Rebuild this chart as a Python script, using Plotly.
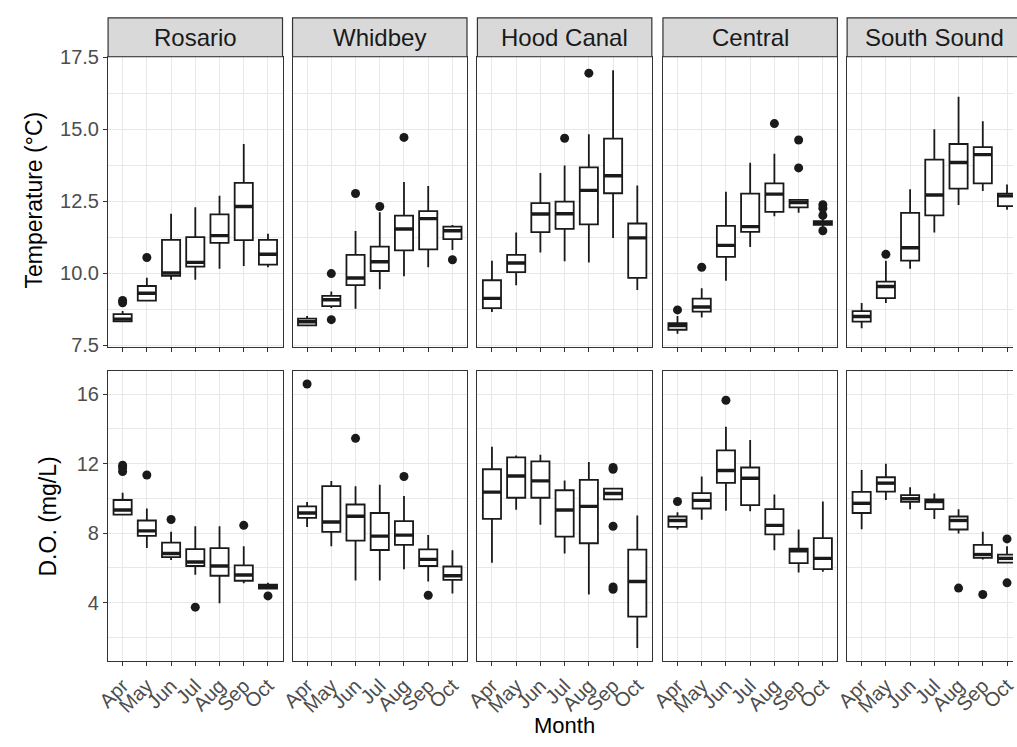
import plotly.graph_objects as go

W, H = 1017, 747

months = ["Apr", "May", "Jun", "Jul", "Aug", "Sep", "Oct"]
regions = ["Rosario", "Whidbey", "Hood Canal", "Central", "South Sound"]

# ---- Temperature (°C) box statistics, per region (Apr..Oct) ----
temp_q1 = [
    [8.32, 9.04, 9.90, 10.22, 11.05, 11.14, 10.29],
    [8.18, 8.85, 9.58, 10.07, 10.79, 10.82, 11.18],
    [8.78, 10.03, 11.42, 11.53, 11.69, 12.77, 9.83],
    [8.03, 8.66, 10.56, 11.43, 12.12, 12.28, 11.67],
    [8.31, 9.13, 10.43, 12.00, 12.93, 13.11, 12.32],
]
temp_med = [
    [8.40, 9.30, 10.00, 10.37, 11.30, 12.31, 10.65],
    [8.31, 9.07, 9.83, 10.39, 11.53, 11.89, 11.47],
    [9.12, 10.35, 12.05, 12.06, 12.87, 13.38, 11.22],
    [8.18, 8.82, 10.96, 11.61, 12.74, 12.45, 11.74],
    [8.49, 9.53, 10.88, 12.71, 13.84, 14.11, 12.68],
]
temp_q3 = [
    [8.57, 9.55, 11.15, 11.25, 12.04, 13.13, 11.15],
    [8.42, 9.21, 10.63, 10.92, 11.99, 12.15, 11.61],
    [9.75, 10.63, 12.43, 12.48, 13.67, 14.67, 11.72],
    [8.26, 9.11, 11.64, 12.76, 13.11, 12.54, 11.80],
    [8.68, 9.70, 12.09, 13.94, 14.48, 14.37, 12.76],
]
temp_lo = [
    [8.30, 9.02, 9.77, 9.77, 10.15, 10.24, 10.20],
    [8.15, 8.79, 8.76, 9.44, 9.89, 10.20, 10.80],
    [8.65, 9.58, 10.71, 10.41, 10.37, 11.22, 9.41],
    [7.89, 8.46, 9.73, 10.90, 11.97, 12.09, 11.61],
    [8.08, 8.96, 10.15, 11.41, 12.36, 12.85, 12.20],
]
temp_hi = [
    [8.68, 9.84, 12.06, 12.28, 12.68, 14.48, 11.36],
    [8.51, 9.36, 11.46, 12.11, 13.16, 13.02, 11.67],
    [10.43, 11.41, 13.47, 13.73, 14.82, 17.04, 13.04],
    [8.51, 9.47, 12.82, 13.83, 14.14, 12.54, 11.90],
    [8.96, 10.43, 12.91, 14.99, 16.12, 15.27, 13.07],
]
temp_out_region = [0, 0, 0, 1, 1, 1, 1, 1, 1, 2, 2, 3, 3, 3, 3, 3, 3, 3, 3, 3, 4]
temp_out_month = ["Apr", "Apr", "May", "May", "May", "Jun", "Jul", "Aug", "Oct",
                  "Jul", "Aug", "Apr", "May", "Aug", "Sep", "Sep", "Oct", "Oct", "Oct", "Oct",
                  "May"]
temp_out_value = [9.05, 8.97, 10.54, 9.98, 8.38, 12.76, 12.31, 14.71, 10.46,
                  14.68, 16.94, 8.72, 10.20, 15.19, 14.62, 13.65, 12.37, 12.25, 12.00, 11.47,
                  10.65]

# ---- Dissolved oxygen (mg/L) box statistics ----
do_q1 = [
    [9.07, 7.84, 6.62, 6.11, 5.55, 5.26, 4.81],
    [8.88, 8.08, 7.57, 7.03, 7.33, 6.11, 5.31],
    [8.82, 10.04, 10.04, 7.80, 7.42, 9.95, 3.20],
    [8.36, 9.42, 10.90, 9.61, 7.93, 6.27, 5.93],
    [9.16, 10.39, 9.80, 9.38, 8.21, 6.58, 6.30],
]
do_med = [
    [9.33, 8.13, 6.83, 6.34, 6.11, 5.59, 4.92],
    [9.16, 8.64, 8.97, 7.83, 7.89, 6.49, 5.55],
    [10.36, 11.29, 11.01, 9.33, 9.54, 10.28, 5.22],
    [8.73, 9.89, 11.61, 11.16, 8.45, 6.99, 6.55],
    [9.72, 10.88, 9.98, 9.82, 8.73, 6.77, 6.55],
]
do_q3 = [
    [9.91, 8.73, 7.46, 7.08, 7.14, 6.15, 5.03],
    [9.54, 10.71, 9.65, 9.16, 8.69, 7.07, 6.08],
    [11.68, 12.36, 12.13, 10.47, 11.07, 10.56, 7.05],
    [8.96, 10.30, 12.77, 11.78, 9.38, 7.11, 7.72],
    [10.38, 11.22, 10.19, 9.94, 8.96, 7.33, 6.77],
]
do_lo = [
    [9.01, 7.14, 6.45, 5.61, 3.97, 5.12, 4.81],
    [8.36, 7.24, 5.27, 5.27, 5.93, 5.22, 4.53],
    [6.30, 9.35, 8.49, 6.83, 4.47, 9.95, 1.39],
    [8.21, 8.77, 9.29, 9.26, 7.01, 5.74, 5.78],
    [8.23, 9.91, 9.38, 8.82, 7.98, 6.49, 6.30],
]
do_hi = [
    [10.32, 9.42, 8.08, 8.40, 8.40, 7.24, 5.14],
    [9.80, 11.01, 10.70, 10.79, 10.14, 7.89, 7.01],
    [12.97, 12.47, 12.51, 11.03, 12.10, 10.56, 9.01],
    [9.20, 11.26, 14.12, 13.37, 10.23, 8.21, 9.82],
    [11.63, 12.00, 10.64, 10.28, 9.38, 8.08, 7.24],
]
do_out_region = [0, 0, 0, 0, 0, 0, 0, 0, 1, 1, 1, 1, 2, 2, 2, 2, 2, 3, 3, 4, 4, 4, 4]
do_out_month = ["Apr", "Apr", "Apr", "May", "Jun", "Jul", "Sep", "Oct",
                "Apr", "Jun", "Aug", "Sep",
                "Sep", "Sep", "Sep", "Sep", "Sep",
                "Apr", "Jun",
                "Aug", "Sep", "Oct", "Oct"]
do_out_value = [11.91, 11.76, 11.55, 11.35, 8.79, 3.74, 8.45, 4.39,
                16.59, 13.46, 11.26, 4.43,
                11.68, 11.78, 8.40, 4.90, 4.77,
                9.82, 15.65,
                4.84, 4.47, 7.67, 5.14]

temp_ticks = [7.5, 10.0, 12.5, 15.0, 17.5]
do_ticks = [4, 8, 12, 16]

# ---------------- layout geometry (pixels) ----------------
panel_left = [96.7, 284.3, 472.3, 661.0, 848.3]
panel_w = 177.4
row_top = [(47, 345), (370, 668)]
strip_y = (7, 47)
yranges = [[7.44, 17.51], [0.635, 17.33]]
BOX_W = 0.75

ink = "#1a1a1a"
grid = "#E8E8E8"
border = "#333333"
FONT = "Liberation Sans, Arial, Helvetica, sans-serif"

fig = go.Figure()
pos = list(range(1, len(months) + 1))
mi = {m: i + 1 for i, m in enumerate(months)}

stats = [(temp_q1, temp_med, temp_q3, temp_lo, temp_hi),
         (do_q1, do_med, do_q3, do_lo, do_hi)]
outs = [(temp_out_region, temp_out_month, temp_out_value),
        (do_out_region, do_out_month, do_out_value)]

layout_axes = {}
for r in range(2):
    q1s, meds, q3s, los, his = stats[r]
    oreg, omon, oval = outs[r]
    for c in range(5):
        k = r * 5 + c + 1
        xa = "x" if k == 1 else f"x{k}"
        ya = "y" if k == 1 else f"y{k}"
        fig.add_trace(go.Box(
            x=pos, q1=q1s[c], median=meds[c], q3=q3s[c],
            lowerfence=los[c], upperfence=his[c],
            width=BOX_W, whiskerwidth=0, boxpoints=False,
            fillcolor="white", line=dict(color=ink, width=1.8),
            orientation="v", xaxis=xa, yaxis=ya, showlegend=False, hoverinfo="skip"))
        # thick median bars
        mx, my = [], []
        for p, m in zip(pos, meds[c]):
            mx += [p - BOX_W / 2, p + BOX_W / 2, None]
            my += [m, m, None]
        fig.add_trace(go.Scatter(x=mx, y=my, mode="lines",
                                 line=dict(color=ink, width=3.4),
                                 xaxis=xa, yaxis=ya, showlegend=False, hoverinfo="skip"))
        ox = [mi[m] for g, m in zip(oreg, omon) if g == c]
        oy = [v for g, v in zip(oreg, oval) if g == c]
        fig.add_trace(go.Scatter(x=ox, y=oy, mode="markers",
                                 marker=dict(color=ink, size=9),
                                 xaxis=xa, yaxis=ya, showlegend=False, hoverinfo="skip",
                                 cliponaxis=True))

        x0 = panel_left[c] / W
        x1 = min((panel_left[c] + panel_w) / W, 1.0)
        xr_hi = 7.6 if (panel_left[c] + panel_w) <= W else 0.4 + 7.2 * (W - panel_left[c]) / panel_w
        ytop, ybot = row_top[r]
        y0 = 1 - ybot / H
        y1 = 1 - ytop / H
        xkey = "xaxis" if k == 1 else f"xaxis{k}"
        ykey = "yaxis" if k == 1 else f"yaxis{k}"
        layout_axes[xkey] = dict(
            domain=[x0, x1], anchor=ya, range=[0.4, xr_hi],
            tickmode="array", tickvals=pos, ticktext=months,
            showticklabels=(r == 1), tickangle=-45, ticklabeloverflow="allow",
            tickfont=dict(size=20, color="#4D4D4D", family=FONT),
            ticks="outside", ticklen=4, tickcolor=border, tickwidth=1.1,
            showgrid=True, gridcolor=grid, gridwidth=1.2, zeroline=False,
            showline=True, linecolor=border, linewidth=1.2, mirror=True,
        )
        if r == 0:
            yt = dict(tickmode="array", tickvals=temp_ticks,
                      ticktext=[f"{v:.1f}" for v in temp_ticks],
                      minor=dict(tickmode="array",
                                 tickvals=[(a + b) / 2 for a, b in zip(temp_ticks[:-1], temp_ticks[1:])],
                                 showgrid=True, gridcolor=grid, gridwidth=0.7, ticks=""))
        else:
            yt = dict(tickmode="array", tickvals=do_ticks,
                      ticktext=[str(v) for v in do_ticks],
                      minor=dict(tickmode="array",
                                 tickvals=[v - 2 for v in do_ticks] + [do_ticks[-1] + 2],
                                 showgrid=True, gridcolor=grid, gridwidth=0.7, ticks=""))
        layout_axes[ykey] = dict(
            domain=[y0, y1], anchor=xa, range=yranges[r],
            showticklabels=(c == 0),
            tickfont=dict(size=20, color="#4D4D4D", family=FONT),
            ticks="outside" if c == 0 else "", ticklen=4, tickcolor=border, tickwidth=1.1,
            showgrid=True, gridcolor=grid, gridwidth=1.2, zeroline=False,
            showline=True, linecolor=border, linewidth=1.2, mirror=(c < 4),
            **yt,
        )

shapes = []
annotations = []
for c, name in enumerate(regions):
    x0 = panel_left[c] / W
    x1 = (panel_left[c] + panel_w) / W
    shapes.append(dict(type="rect", xref="paper", yref="paper",
                       x0=x0, x1=x1, y0=1 - strip_y[1] / H, y1=1 - strip_y[0] / H,
                       fillcolor="#D9D9D9", line=dict(color=border, width=1.2), layer="above"))
    annotations.append(dict(text=name, xref="paper", yref="paper",
                            x=(x0 + x1) / 2, y=1 - (strip_y[0] + strip_y[1]) / 2 / H,
                            xanchor="center", yanchor="middle", showarrow=False,
                            font=dict(size=24, color="#1A1A1A", family=FONT)))

annotations.append(dict(text="Temperature (°C)", xref="paper", yref="paper",
                        x=21 / W, y=1 - 194 / H, textangle=-90, showarrow=False,
                        xanchor="center", yanchor="middle",
                        font=dict(size=23, color="black", family=FONT)))
annotations.append(dict(text="D.O. (mg/L)", xref="paper", yref="paper",
                        x=36 / W, y=1 - 519 / H, textangle=-90, showarrow=False,
                        xanchor="center", yanchor="middle",
                        font=dict(size=23, color="black", family=FONT)))
annotations.append(dict(text="Month", xref="paper", yref="paper",
                        x=561 / W, y=1 - 734 / H, showarrow=False,
                        xanchor="center", yanchor="middle",
                        font=dict(size=22, color="black", family=FONT)))

fig.update_layout(
    width=W, height=H,
    margin=dict(l=0, r=0, t=0, b=0),
    paper_bgcolor="white", plot_bgcolor="white",
    shapes=shapes, annotations=annotations,
    font=dict(family=FONT),
    **layout_axes,
)

fig.write_html("out.html")
